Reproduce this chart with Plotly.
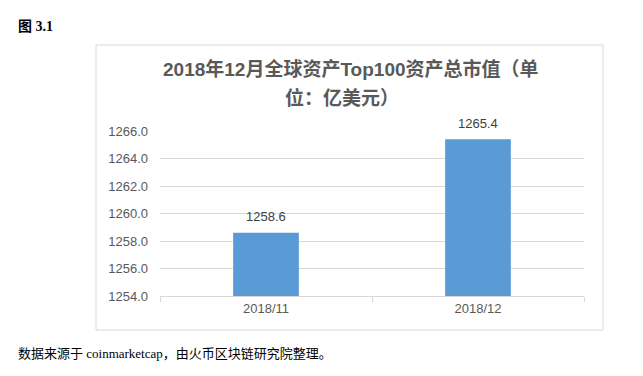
import plotly.graph_objects as go

categories = ["2018/11", "2018/12"]
values = [1258.6, 1265.4]
value_labels = ["1258.6", "1265.4"]
y_ticks = [1254.0, 1256.0, 1258.0, 1260.0, 1262.0, 1264.0, 1266.0]
title_line1 = "2018年12月全球资产Top100资产总市值（单"
title_line2 = "位：亿美元）"
fig_label = "图 3.1"
source_text = "数据来源于 coinmarketcap，由火币区块链研究院整理。"

W, H = 643, 376
L, R, T, B = 160, 59, 131, 80
pw, ph = W - L - R, H - T - B

def px(x):
    return (x - L) / pw

def py(y):
    return (H - B - y) / ph

sans = "Liberation Sans, Arial, Noto Sans CJK SC, sans-serif"
serif = "Liberation Serif, Times New Roman, Noto Sans CJK SC, serif"

fig = go.Figure()
fig.add_trace(go.Bar(
    x=categories, y=values,
    marker=dict(color="#5b9bd5", line=dict(width=0)),
    width=0.31, hoverinfo="skip",
))

annotations = []
for c, v, t in zip(categories, values, value_labels):
    annotations.append(dict(x=c, y=v, xref="x", yref="y", text=t, showarrow=False,
                            yshift=16, font=dict(family=sans, size=13, color="#404040")))

annotations += [
    dict(x=px(351), y=py(69), xref="paper", yref="paper", text=title_line1, showarrow=False,
         font=dict(family=sans, size=19, color="#595959", weight="bold"), xanchor="center", yanchor="middle"),
    dict(x=px(342), y=py(98), xref="paper", yref="paper", text=title_line2, showarrow=False,
         font=dict(family=sans, size=19, color="#595959", weight="bold"), xanchor="center", yanchor="middle"),
    dict(x=px(16), y=py(27), xref="paper", yref="paper", text="<b>" + fig_label + "</b>", showarrow=False,
         font=dict(family=serif, size=14, color="#000000"), xanchor="left", yanchor="middle"),
    dict(x=px(16), y=py(353), xref="paper", yref="paper", text=source_text, showarrow=False,
         font=dict(family=serif, size=13, color="#000000"), xanchor="left", yanchor="middle"),
]

fig.update_layout(
    width=W, height=H,
    margin=dict(l=L, r=R, t=T, b=B, pad=0),
    paper_bgcolor="white", plot_bgcolor="white",
    showlegend=False,
    annotations=annotations,
    shapes=[dict(type="rect", xref="paper", yref="paper",
                 x0=px(96), x1=px(603), y0=py(330), y1=py(45),
                 line=dict(color="#d9d9d9", width=1), fillcolor="rgba(0,0,0,0)", layer="below")],
)
fig.update_xaxes(
    type="category", showgrid=False, showline=True, linecolor="#d9d9d9", linewidth=1,
    ticks="outside", tickson="boundaries", ticklen=5, tickcolor="#d9d9d9",
    tickfont=dict(family=sans, size=13, color="#595959"), fixedrange=True,
)
fig.update_yaxes(
    range=[1254, 1266], tickvals=y_ticks, ticktext=[f"{v:.1f}" for v in y_ticks],
    showgrid=True, gridcolor="#d9d9d9", gridwidth=1, zeroline=False, showline=False,
    ticks="", ticklabelstandoff=11,
    tickfont=dict(family=sans, size=13, color="#595959"), fixedrange=True,
)
fig.update_traces(cliponaxis=False)
fig.write_html("out.html")
